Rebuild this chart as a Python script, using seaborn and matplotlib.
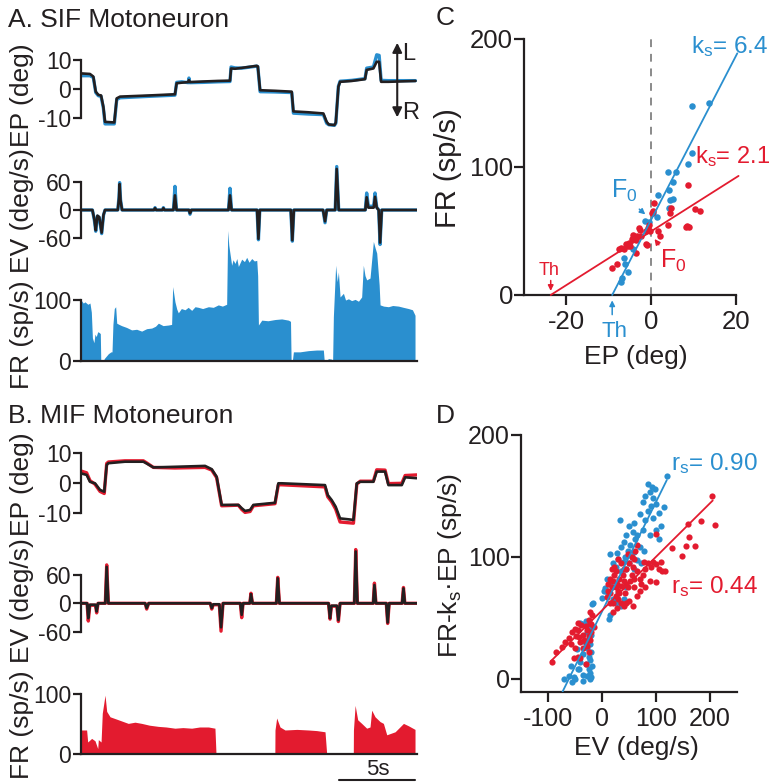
import matplotlib
matplotlib.use("Agg")
import matplotlib.pyplot as plt
import seaborn as sns

sns.set_style("ticks")
plt.rcParams['font.family'] = ['Liberation Sans', 'DejaVu Sans']
plt.rcParams['mathtext.fontset'] = 'custom'
plt.rcParams['mathtext.rm'] = 'Liberation Sans'
plt.rcParams['mathtext.it'] = 'Liberation Sans:italic'
plt.rcParams['axes.unicode_minus'] = False

BLUE = "#2a8fcf"
RED = "#e31b2f"
INK = "#231f20"

# ---------------- SIF motoneuron (A) ----------------
ep_a_t = [0.00, 0.59, 0.81, 0.97, 1.14, 1.32, 1.47, 1.58, 2.19, 2.35, 2.57, 4.50, 6.18, 6.29, 6.62,
          7.06, 7.10, 7.15, 8.00, 9.00, 9.80, 9.87, 10.13, 10.57, 11.00, 11.56, 11.63, 11.78, 12.76,
          13.86, 13.97, 14.96, 15.94, 16.16, 16.30, 16.67, 16.76, 16.93, 17.04, 17.81, 18.68, 18.79,
          19.23, 19.45, 19.61, 19.74, 20.22, 22.00]
ep_a_black = [5.4, 5.2, 4.3, -0.9, -2.0, -2.2, -6.1, -11.3, -11.5, -3.2, -2.6, -2.2, -1.8, 2.0, 2.2,
              2.4, 3.1, 2.4, 2.6, 2.8, 2.9, 7.1, 7.0, 7.3, 7.6, 8.0, 7.8, -0.4, -0.6,
              -0.9, -7.7, -8.0, -8.4, -11.3, -12.2, -12.4, -11.5, 0.8, 2.5, 2.8, 3.4, 6.6,
              7.1, 9.4, 9.4, 2.5, 2.5, 2.8]
ep_a_blue = [4.6, 4.6, 4.0, -1.2, -2.3, -2.5, -6.5, -12.0, -12.0, -3.6, -3.0, -2.5, -2.1, 2.3, 2.5,
             2.2, 3.8, 2.2, 2.3, 2.5, 2.6, 7.6, 7.3, 7.2, 7.5, 7.9, 7.7, -0.9, -1.0,
             -1.2, -8.3, -8.6, -8.8, -11.8, -12.3, -12.5, -11.8, 1.0, 2.7, 3.0, 3.6, 7.2,
             7.6, 11.8, 11.6, 3.0, 2.9, 2.9]

ev_a_t = [0.00, 0.75, 0.88, 0.97, 1.08, 1.20, 1.36, 1.48, 1.58, 2.42, 2.50, 2.54, 2.60, 2.70, 4.80,
          4.87, 4.94, 5.35, 5.42, 5.49, 6.08, 6.18, 6.28, 7.10, 7.17, 7.26, 9.70, 9.80, 9.90, 11.58,
          11.67, 11.76, 13.80, 13.90, 14.00, 15.92, 16.05, 16.16, 16.72, 16.82, 16.95, 18.70, 18.79,
          18.90, 19.25, 19.34, 19.45, 19.58, 19.67, 19.78, 22.10]
ev_a_black = [0, 0, -20, -43, -12, -15, -48, -10, 0, 0, 25, 55, 20, 0, 0,
              4, 0, 0, 4, 0, 0, 31, 0, 0, -7, 0, 0, 31, 0, 0,
              -61, 0, 0, -64, 0, 0, -24, 0, 0, 87, 0, 0, 27,
              5, 5, 28, 5, 0, -69, 0, 0]
ev_a_blue = [0, 0, -22, -45, -13, -16, -50, -11, 0, 0, 28, 58, 22, 0, 0,
             5, 0, 0, 5, 0, 0, 50, 0, 0, -9, 0, 0, 46, 0, 0,
             -63, 0, 0, -66, 0, 0, -27, 0, 0, 92, 0, 0, 36,
             8, 8, 36, 6, 0, -73, 0, 0]

fr_a_t = [0.00, 0.15, 0.26, 0.45, 0.59, 0.68, 0.75, 0.85, 0.92, 1.00, 1.10, 1.18, 1.27, 1.30, 1.31,
          1.47, 1.53, 1.80, 1.97, 2.04, 2.10, 2.19, 2.28, 2.35, 2.50, 2.67, 3.00, 3.33, 3.66, 3.99,
          4.32, 4.65, 4.90, 5.09, 5.40, 5.75, 5.96, 6.03, 6.18, 6.30, 6.40, 6.60, 6.84, 7.05, 7.28,
          7.50, 7.72, 8.00, 8.38, 8.70, 9.03, 9.30, 9.58, 9.65, 9.72, 9.80, 9.91, 10.00, 10.13,
          10.25, 10.35, 10.57, 10.75, 10.90, 11.05, 11.23, 11.40, 11.56, 11.62, 11.67, 11.89, 12.30,
          12.76, 13.20, 13.64, 13.78, 13.82, 13.90, 13.97, 14.40, 14.96, 15.50, 15.94, 16.00, 16.15,
          16.27, 16.49, 16.55, 16.60, 16.75, 16.85, 16.93, 17.04, 17.26, 17.40, 17.59, 17.80, 18.03,
          18.25, 18.46, 18.57, 18.68, 18.79, 19.01, 19.23, 19.35, 19.45, 19.61, 19.67, 19.90, 20.22,
          20.50, 20.88, 21.20, 21.54, 21.80, 21.97]
fr_a = [100, 95, 97, 93, 95, 80, 38, 30, 44, 40, 48, 47, 45, 2, 0,
        0, 4, 12, 15, 15, 60, 86, 89, 62, 60, 58, 55, 51, 52, 49,
        53, 54, 57, 62, 58, 59, 60, 122, 97, 85, 79, 86, 84, 88, 83,
        89, 88, 86, 89, 88, 92, 90, 93, 214, 190, 176, 157, 166, 160,
        168, 155, 167, 163, 170, 162, 168, 164, 165, 140, 59, 67, 66,
        68, 69, 67, 65, 0, 0, 15, 15, 17, 18, 18, 0, 0,
        4, 3, 0, 73, 157, 130, 146, 105, 111, 100, 102, 99, 101,
        98, 105, 157, 140, 133, 136, 196, 185, 177, 125, 92, 90, 89,
        91, 90, 88, 86, 84, 75]

# ---------------- MIF motoneuron (B) ----------------
ep_b_t = [0.00, 0.37, 0.59, 0.92, 1.25, 1.53, 1.69, 1.80, 2.89, 4.10, 4.32, 4.76, 6.18, 8.16, 8.60,
          8.92, 9.25, 10.35, 10.57, 10.79, 11.12, 11.34, 12.76, 12.98, 13.20, 16.05, 16.23, 16.49,
          16.75, 17.04, 17.92, 18.14, 18.36, 19.23, 19.45, 20.00, 20.22, 21.10, 21.32, 22.08]
ep_b_black = [3.2, 2.7, 0.4, -0.1, -2.3, -2.9, 6.0, 6.6, 7.1, 7.1, 6.5, 5.2, 5.4, 5.7, 4.6,
              2.1, -7.3, -7.3, -8.4, -9.3, -9.0, -7.3, -6.6, -0.1, -0.1, -0.7, -4.0, -5.7,
              -7.9, -11.8, -12.3, -0.1, 0.4, 0.4, 3.8, 3.8, -0.7, -0.7, 1.9, 1.6]
ep_b_red = [4.0, 3.4, 0.8, -0.4, -2.8, -3.5, 6.5, 7.0, 7.4, 7.4, 6.7, 5.2, 5.0, 5.2, 4.3,
            1.8, -7.6, -7.4, -8.8, -9.8, -9.5, -7.6, -6.9, -0.6, -0.6, -1.3, -4.6, -6.3,
            -8.7, -13.0, -13.4, -0.4, 0.6, 0.6, 4.4, 4.3, -0.2, -0.1, 2.5, 2.7]

ev_b_t = [0.00, 0.40, 0.48, 0.58, 0.95, 1.03, 1.12, 1.60, 1.69, 1.80, 4.22, 4.32, 4.45, 8.50, 8.60,
          8.70, 9.10, 9.21, 9.34, 10.48, 10.57, 10.66, 11.10, 11.18, 11.28, 12.85, 12.94, 13.05,
          16.28, 16.38, 16.47, 16.83, 16.93, 17.04, 17.98, 18.07, 18.18, 19.22, 19.30, 19.40,
          20.08, 20.17, 20.27, 21.12, 21.21, 21.30, 22.10]
ev_b_black = [0, 0, -31, -3, -3, -17, 0, 0, 76, 0, 0, -10, 0, 0, -10,
              -2, -2, -50, 0, 0, -24, 0, 0, 19, 0, 0, 52, 0,
              0, -31, -5, -5, -35, 0, 0, 108, 0, 0, 38, 0,
              0, -40, 0, 0, 31, 0, 0]
ev_b_red = [0, 0, -37, -4, -4, -20, 0, 0, 80, 0, 0, -12, 0, 0, -12,
            -3, -3, -58, 0, 0, -30, 0, 0, 21, 0, 0, 54, 0,
            0, -33, -6, -6, -38, 0, 0, 112, 0, 0, 42, 0,
            0, -42, 0, 0, 33, 0, 0]

fr_b_t = [0.00, 0.37, 0.44, 0.70, 0.92, 1.10, 1.14, 1.32, 1.40, 1.58, 1.69, 1.91, 2.46, 3.11, 3.55,
          3.99, 4.50, 5.09, 5.60, 6.18, 6.70, 7.28, 7.80, 8.38, 8.81, 8.88, 12.75, 12.76, 12.87,
          13.09, 13.42, 14.20, 14.96, 15.50, 16.05, 16.16, 17.91, 17.92, 18.03, 18.20, 18.46, 18.79,
          19.01, 19.12, 19.34, 19.67, 19.89, 20.11, 20.66, 21.21, 21.54, 21.97]
fr_b = [40, 40, 20, 26, 22, 9, 24, 20, 68, 98, 71, 62, 57, 51, 53,
        51, 48, 46, 45, 43, 44, 43, 45, 45, 43, 0, 0, 40, 60,
        45, 40, 41, 40, 39, 37, 0, 0, 40, 81, 57, 51, 43,
        45, 73, 62, 54, 51, 32, 37, 51, 47, 41]

# ---------------- Position sensitivity (C) ----------------
ks_sif, th_sif = 6.4, -9.2
ks_mif, th_mif = 2.1, -23.7
ep_sif = [9.6, 13.6, 9.6, 8.7, 4.0, 5.8, 5.1, 4.1, 1.6, 5.1, 4.5, 4.1, 1.3, -0.6, -1.4, 0.5,
          -4.3, -6.4, -6.2, -5.4, -6.9, -7.2]
fr_sif = [148, 150, 111, 102, 96, 96, 88, 82, 78, 75, 74, 68, 61, 57, 58, 64,
          36, 29, 24, 18, 13, 10]
ep_mif = [8.6, 0.6, 0.4, 0.2, 4.7, 4.5, 10.3, 11.6, 3.9, 8.5, 8.9, 8.2, -2.6, -1.3, -0.4, -0.8,
          -2.3, -3.3, 1.5, 2.1, -4.5, -3.7, -5.9, -5.2, -5.5, -7.1, -6.3, -3.5, -1.2, -1.0,
          -8.0, -9.2, -4.2, -2.8, -0.6, -7.7, -5.0]
fr_mif = [86, 72, 66, 64, 68, 64, 67, 66, 55, 54, 53, 53, 51, 50, 50, 52,
          46, 46, 50, 46, 44, 43, 40, 41, 38, 37, 36, 33, 40, 39,
          24, 21, 47, 52, 55, 36, 38]

# ---------------- Velocity sensitivity (D) ----------------
rs_sif, b_sif = 0.90, 55.0
rs_mif, b_mif = 0.44, 56.0
ev_sif = [120, 85, 92, 88, 98, 80, 95, 75, 90, 100, 115, 85, 105, 70, 95, 80, 60, 110, 100, 75,
          88, 65, 105,
          33, 50, 58, 45, 62, 40, 52, 35, 48, 60, 28, 42, 55, 38, 30, 20, 50, 65, 45, 35, 25, 14,
          60, 72, 70, 78,
          10, 15, 8, 12, 30, 20, 25, 35, 40, 45, 15, 13, -16, -19, 3, 6, 0,
          -41, -37, -30, -25, -20, -23, -28, -20, -25, -32, -22, -28, -20, -35, -25, -22, -30, -18,
          -25, -22, -28, -20, -22, -35, -45, -50, -55, -62, -70, -40, -47, -36, -58, -51, -42]
fr_ks_sif = [166, 160, 157, 153, 156, 150, 148, 145, 142, 143, 141, 138, 136, 135, 132, 130, 128,
             125, 122, 122, 118, 118, 115,
             130, 125, 120, 118, 115, 112, 110, 108, 105, 104, 103, 100, 100, 96, 98, 95, 95, 97,
             90, 88, 92, 102, 90, 95, 108, 105,
             82, 78, 72, 70, 70, 65, 62, 60, 65, 75, 52, 49, 62, 61, 72, 74, 66,
             46, 45, 47, 46, 44, 40, 38, 36, 33, 30, 28, 25, 22, 20, 18, 15, 12, 10,
             8, 5, 2, 1, 0, 3, 8, 0, -3, 2, 0, 14, 24, -2, 10, 1, 8]
ev_mif = [-93, -85, -75, -68, -62, -55, -50, -45, -58, -50, -45, -52, -40, -30, -25, -35, -40,
          -30, -25, -35, -42, -28, -20, -22, -20, -25, -30, -15, -18, -22, -38, -45, -33, -48, -27,
          10, 12, 15, 18, 20, 15, 22, 25, 18, 28, 30, 32, 35, 38, 40, 25, 20, 30, 35, 40, 45, 50,
          42, 48, 52, 55, 45, 50, 58, 60, 55, 62, 65, 48, 35, 30, 22, 40, 65, 70, 72, 75, 80, 85,
          90, 95, 100, 105, 110, 112, 88, 80, 70, 60, 65, 58, 28, 20, 15, 12, 60, 78, 100, 117,
          100, 25, 32, 45,
          204, 183, 160, 209, 162, 156, 172, 148, 129]
fr_ks_mif = [14, 22, 26, 30, 33, 38, 41, 40, 28, 25, 18, 17, 17, 12, 22, 25, 30,
             30, 35, 36, 34, 40, 38, 32, 45, 48, 43, 42, 52, 55, 44, 46, 32, 35, 27,
             67, 72, 70, 75, 80, 82, 85, 88, 90, 78, 72, 82, 76, 85, 90, 68, 62, 65, 62, 60, 62, 64,
             70, 75, 80, 85, 90, 95, 92, 98, 100, 105, 110, 102, 95, 98, 92, 80, 88, 82, 78, 85, 90,
             95, 92, 96, 94, 90, 96, 88, 80, 75, 72, 75, 68, 60, 58, 55, 62, 78, 82, 96, 119, 88,
             79, 75, 70, 78,
             150, 129, 127, 126, 116, 109, 109, 101, 107]

# ---------------- layout helpers (pixel boxes on a 772 x 782 canvas) ----------------
W, H = 772, 782
fig = plt.figure(figsize=(W / 100, H / 100), dpi=100)


def box(left, top, width, height):
    return fig.add_axes([left / W, 1 - (top + height) / H, width / W, height / H])


def ftext(x, y, s, **kw):
    fig.text(x / W, 1 - y / H, s, **kw)


TICK = 16.5
LAB = 19


def trace_axes(ax, ylim, bounds, ticks, bottom=False):
    ax.set_facecolor('none')
    ax.set_xlim(0, 22.1)
    ax.set_ylim(*ylim)
    sns.despine(ax=ax, top=True, right=True, bottom=not bottom)
    ax.spines['left'].set_bounds(*bounds)
    ax.spines['left'].set_linewidth(1.6)
    ax.spines['left'].set_color(INK)
    ax.set_yticks(ticks)
    ax.set_yticklabels([str(v) for v in ticks])
    ax.tick_params(axis='y', length=6, width=1.6, pad=1, labelsize=TICK, colors=INK)
    ax.set_xticks([])
    if bottom:
        ax.spines['bottom'].set_linewidth(1.6)
        ax.spines['bottom'].set_color(INK)
    ax.set_xlabel('')
    ax.set_ylabel('')


def draw_pair(ax, t, colored, black, color):
    sns.lineplot(x=t, y=colored, ax=ax, color=color, lw=2.4, sort=False, estimator=None)
    sns.lineplot(x=t, y=black, ax=ax, color=INK, lw=1.9, sort=False, estimator=None)


# Panel A
axA1 = box(81, 40, 336, 90)
draw_pair(axA1, ep_a_t, ep_a_blue, ep_a_black, BLUE)
trace_axes(axA1, (-14.1, 16.9), (-10, 10), [-10, 0, 10])
axA1.annotate('', xy=(20.8, 16.9), xytext=(20.8, -10.7),
              arrowprops=dict(arrowstyle='<|-|>', lw=1.5, color=INK, mutation_scale=14),
              annotation_clip=False)
axA1.text(21.15, 12.0, 'L', fontsize=17, color=INK, va='center', ha='left', clip_on=False)
axA1.text(21.15, -8.3, 'R', fontsize=17, color=INK, va='center', ha='left', clip_on=False)

axA2 = box(81, 160, 336, 90)
draw_pair(axA2, ev_a_t, ev_a_blue, ev_a_black, BLUE)
trace_axes(axA2, (-84.7, 105.9), (-60, 60), [-60, 0, 60])

axA3 = box(81, 225, 336, 136)
axA3.fill_between(fr_a_t, 0, fr_a, color=BLUE, lw=0)
trace_axes(axA3, (0, 223), (0, 100), [0, 100], bottom=True)

# Panel B
axB1 = box(81, 430, 336, 100)
draw_pair(axB1, ep_b_t, ep_b_red, ep_b_black, RED)
trace_axes(axB1, (-15.67, 17.67), (-10, 10), [-10, 0, 10])

axB2 = box(81, 540, 336, 110)
draw_pair(axB2, ev_b_t, ev_b_red, ev_b_black, RED)
trace_axes(axB2, (-97.3, 131.9), (-60, 60), [-60, 0, 60])

axB3 = box(81, 680, 336, 74)
axB3.fill_between(fr_b_t, 0, fr_b, color=RED, lw=0)
trace_axes(axB3, (0, 123.3), (0, 100), [0, 100], bottom=True)
axB3.plot([17, 22], [-43, -43], color=INK, lw=1.5, clip_on=False)
axB3.text(19.5, -25, '5s', fontsize=16, color=INK, ha='center', va='center', clip_on=False)

# Panel titles and trace labels
ftext(8, 27, 'A. SIF Motoneuron', fontsize=19, color=INK, va='baseline')
ftext(8, 423, 'B. MIF Motoneuron', fontsize=19, color=INK, va='baseline')
for yc, s in [(95, 'EP (deg)'), (211, 'EV (deg/s)'), (335, 'FR (sp/s)'),
              (484, 'EP (deg)'), (601, 'EV (deg/s)'), (725, 'FR (sp/s)')]:
    ftext(22, yc, s, fontsize=LAB, color=INK, rotation=90, ha='center', va='center')


def scatter_axes(ax, xlim, ylim, xticks, yticks, size):
    ax.set_facecolor('none')
    ax.set_xlim(*xlim)
    ax.set_ylim(*ylim)
    sns.despine(ax=ax)
    for side in ('left', 'bottom'):
        ax.spines[side].set_linewidth(1.6)
        ax.spines[side].set_color(INK)
    ax.set_xticks(xticks)
    ax.set_xticklabels([str(v) for v in xticks])
    ax.set_yticks(yticks)
    ax.set_yticklabels([str(v) for v in yticks])
    ax.tick_params(axis='both', length=7, width=1.6, labelsize=size, colors=INK)
    ax.tick_params(axis='y', pad=1)
    ax.tick_params(axis='x', pad=4)
    ax.set_xlabel('')
    ax.set_ylabel('')


# Panel C
axC = box(524, 39, 212, 256)
axC.plot([0, 0], [0, 200], color='#8a8a8a', lw=1.4, ls=(0, (4, 3.5)), zorder=1)
sns.scatterplot(x=ep_sif, y=fr_sif, ax=axC, color=BLUE, s=22, linewidth=0, zorder=3)
sns.scatterplot(x=ep_mif, y=fr_mif, ax=axC, color=RED, s=22, linewidth=0, zorder=3)
x_sif = [th_sif, 20.3]
x_mif = [th_mif, 20.6]
sns.lineplot(x=x_sif, y=[ks_sif * (x - th_sif) for x in x_sif], ax=axC, color=BLUE, lw=1.3,
             estimator=None, sort=False, zorder=4)
sns.lineplot(x=x_mif, y=[ks_mif * (x - th_mif) for x in x_mif], ax=axC, color=RED, lw=1.3,
             estimator=None, sort=False, zorder=4)
for ln in axC.get_lines():
    ln.set_clip_on(False)
scatter_axes(axC, (-30, 20), (0, 200), [-20, 0, 20], [0, 100, 200], 18.5)

arrow = dict(arrowstyle='-|>', lw=1.1, mutation_scale=8)
axC.annotate('', xy=(-0.9, 61.5), xytext=(-3.3, 68.5),
             arrowprops=dict(arrow, color=BLUE), annotation_clip=False)
axC.annotate('', xy=(0.4, 45.5), xytext=(2.2, 37.5),
             arrowprops=dict(arrow, color=RED), annotation_clip=False)
axC.annotate('', xy=(th_mif, 1.0), xytext=(th_mif, 13.5),
             arrowprops=dict(arrow, color=RED), annotation_clip=False)
axC.annotate('', xy=(th_sif, -2.0), xytext=(th_sif, -17.5),
             arrowprops=dict(arrow, color=BLUE), annotation_clip=False)

ftext(611, 198, r'F$_\mathregular{0}$', fontsize=18, color=BLUE, va='baseline')
ftext(660, 268, r'F$_\mathregular{0}$', fontsize=18, color=RED, va='baseline')
ftext(549, 275, 'Th', fontsize=13, color=RED, ha='center', va='baseline')
ftext(615, 337, 'Th', fontsize=16, color=BLUE, ha='center', va='baseline')
ftext(691, 53, r'k$_\mathregular{s}$= ' + f'{ks_sif}', fontsize=17.5, color=BLUE, va='baseline')
ftext(695, 163, r'k$_\mathregular{s}$= ' + f'{ks_mif}', fontsize=17, color=RED, va='baseline')
ftext(436, 25, 'C', fontsize=19, color=INK, va='baseline')
ftext(448, 168, 'FR (sp/s)', fontsize=21, color=INK, rotation=90, ha='center', va='center')
ftext(636, 357, 'EP (deg)', fontsize=LAB, color=INK, ha='center', va='center')

# Panel D
axD = box(521, 435, 216, 257)
sns.scatterplot(x=ev_sif, y=fr_ks_sif, ax=axD, color=BLUE, s=20, linewidth=0, zorder=2)
sns.scatterplot(x=ev_mif, y=fr_ks_mif, ax=axD, color=RED, s=20, linewidth=0, zorder=3)
xd_sif = [-73, 120]
xd_mif = [-95, 205]
sns.lineplot(x=xd_sif, y=[rs_sif * x + b_sif for x in xd_sif], ax=axD, color=BLUE, lw=1.3,
             estimator=None, sort=False, zorder=4)
sns.lineplot(x=xd_mif, y=[rs_mif * x + b_mif for x in xd_mif], ax=axD, color=RED, lw=1.3,
             estimator=None, sort=False, zorder=4)
scatter_axes(axD, (-150, 250), (-11, 200), [-100, 0, 100, 200], [0, 100, 200], 18)
ftext(671, 470, r'r$_\mathregular{s}$= ' + f'{rs_sif:.2f}', fontsize=17.5, color=BLUE, va='baseline')
ftext(671, 593, r'r$_\mathregular{s}$= ' + f'{rs_mif:.2f}', fontsize=17.5, color=RED, va='baseline')
ftext(436, 423, 'D', fontsize=19, color=INK, va='baseline')
ftext(450, 565, r'FR-k$_\mathregular{s}$·EP (sp/s)', fontsize=LAB, color=INK, rotation=90,
      ha='center', va='center')
ftext(636, 748, 'EV (deg/s)', fontsize=LAB, color=INK, ha='center', va='center')

fig.savefig('out.png', dpi=100)
